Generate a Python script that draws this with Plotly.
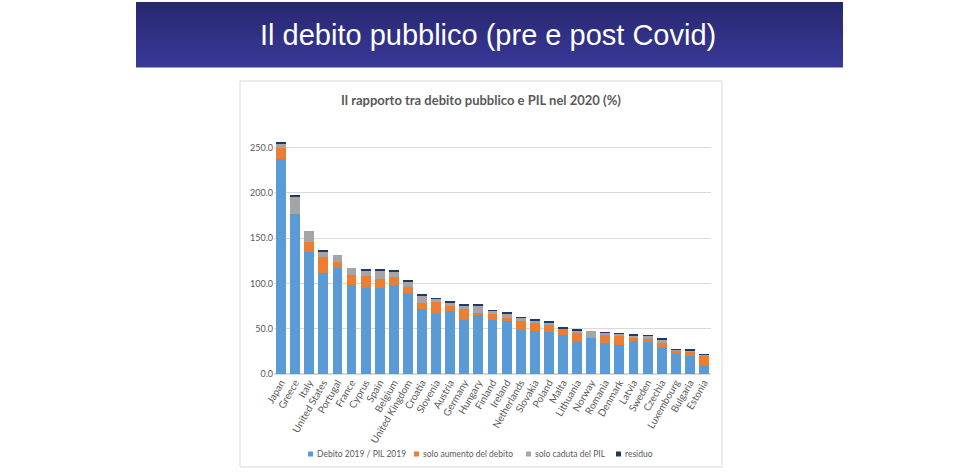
import plotly.graph_objects as go

W, H = 974, 475

paesi = ["Japan", "Greece", "Italy", "United States", "Portugal", "France", "Cyprus",
         "Spain", "Belgium", "United Kingdom", "Croatia", "Slovenia", "Austria",
         "Germany", "Hungary", "Finland", "Ireland", "Netherlands", "Slovakia",
         "Poland", "Malta", "Lithuania", "Norway", "Romania", "Denmark", "Latvia",
         "Sweden", "Czechia", "Luxembourg", "Bulgaria", "Estonia"]

# Debito 2019 / PIL 2019
debito_2019 = [237, 177, 134.5, 111, 117.3, 98, 95, 95, 98, 88.6, 72, 66, 70, 59.6,
               65, 59.6, 58, 48.6, 48, 46, 43, 35.7, 40, 34.5, 32.5, 36.5, 35.5,
               30.2, 22, 20, 8.4]
# solo aumento del debito
aumento_debito = [12, 0, 11, 17.7, 6.7, 11, 13.3, 9.5, 8.8, 7.4, 6.6, 14, 5.5, 12,
                  2.6, 6.3, 3.7, 9.5, 8.4, 8.4, 6.3, 9.2, 0, 8.6, 9.8, 3.7, 3, 4.4,
                  3, 4.4, 11.2]
# solo caduta del PIL
caduta_pil = [5, 18.5, 12.5, 5.5, 7.7, 7.7, 5.8, 9.5, 6.2, 5.2, 8.1, 3, 3.3, 3, 7.4,
              3.6, 4.4, 3.7, 2.2, 2.2, 0, 2.2, 8, 2.3, 2.2, 1.5, 3.3, 3.3, 1.8, 1.5, 1.3]
# residuo
residuo = [1.5, 1.5, 0, 1.5, 0, 0, 1.5, 1.5, 1.5, 1.0, 1.5, 0.3, 0.5, 1.5, 1.5, 0.3,
           1.1, 0.3, 1.5, 1.5, 1.5, 1.5, 0, 0.5, 0.3, 1.5, 0.3, 1.5, 0.3, 0.3, 0.5]

serie = [
    ("Debito 2019 / PIL 2019", debito_2019, "#5b9bd5"),
    ("solo aumento del debito", aumento_debito, "#ed7d31"),
    ("solo caduta del PIL", caduta_pil, "#a5a5a5"),
    ("residuo", residuo, "#1f3864"),
]
# posizione x (px) dei quadratini della legenda
legenda_x = [308, 414, 526, 616]


def px_x(v):
    return v / W


def px_y(v):
    return 1 - v / H


fig = go.Figure()
for nome, valori, colore in serie:
    fig.add_trace(go.Bar(x=paesi, y=valori, name=nome, marker_color=colore,
                         marker_line_width=0, showlegend=False))

shapes = []
annotations = []
# banner con sfumatura (strisce sottili)
n_strisce = 26
top, bottom = 2, 67
c0, c1 = (40, 40, 112), (57, 57, 152)
for i in range(n_strisce):
    t = i / (n_strisce - 1)
    col = "rgb(%d,%d,%d)" % tuple(int(c0[k] + (c1[k] - c0[k]) * t) for k in range(3))
    y0 = top + (bottom - top) * i / n_strisce
    y1 = top + (bottom - top) * (i + 1) / n_strisce + 0.5
    shapes.append(dict(type="rect", xref="paper", yref="paper", layer="below",
                       x0=px_x(136), x1=px_x(843), y0=px_y(y1), y1=px_y(y0),
                       fillcolor=col, line_width=0))
# riquadro del grafico
shapes.append(dict(type="rect", xref="paper", yref="paper", layer="below",
                   x0=px_x(240), x1=px_x(722), y0=px_y(467), y1=px_y(81),
                   fillcolor="white", line=dict(color="#d9d9d9", width=1)))

# legenda disegnata a mano (stile Excel)
for (nome, _, colore), lx in zip(serie, legenda_x):
    shapes.append(dict(type="rect", xref="paper", yref="paper",
                       x0=px_x(lx), x1=px_x(lx + 5), y0=px_y(456.5), y1=px_y(451.5),
                       fillcolor=colore, line_width=0))
    annotations.append(dict(text=nome, xref="paper", yref="paper",
                            x=px_x(lx + 7), y=px_y(454), xanchor="left",
                            yanchor="middle", showarrow=False,
                            font=dict(size=8.5, color="#595959")))

annotations += [
    dict(text="Il debito pubblico (pre e post Covid)", xref="paper", yref="paper",
         x=px_x(488), y=px_y(35), xanchor="center", yanchor="middle",
         showarrow=False,
         font=dict(family="Liberation Sans, Arial, sans-serif", size=29,
                   color="white")),
    dict(text="<b>Il rapporto tra debito pubblico e PIL nel 2020 (%)</b>",
         xref="paper", yref="paper", x=px_x(481), y=px_y(100),
         xanchor="center", yanchor="middle", showarrow=False,
         font=dict(family="Lato, Open Sans, sans-serif", size=13,
                   color="#595959")),
]

fig.update_layout(
    width=W, height=H,
    margin=dict(l=0, r=0, t=0, b=0),
    paper_bgcolor="white", plot_bgcolor="rgba(0,0,0,0)",
    barmode="stack", bargap=0.3,
    font=dict(family="Lato, Open Sans, sans-serif", size=9, color="#595959"),
    shapes=shapes,
    annotations=annotations,
    xaxis=dict(domain=[px_x(274), px_x(711)], tickangle=-60, showgrid=False,
               showline=False, ticks="", automargin=False,
               tickfont=dict(size=10, color="#595959")),
    yaxis=dict(domain=[px_y(374), px_y(138.4)], range=[0, 260], dtick=50,
               tickformat=".1f", gridcolor="#d9d9d9", zeroline=True,
               zerolinecolor="#d9d9d9", showline=False, ticks="", automargin=False,
               tickfont=dict(size=9, color="#595959")),
)

fig.write_html("out.html", config={"displayModeBar": False},
               post_script="document.body.style.margin='0';"
                           "document.body.style.overflow='hidden';")
